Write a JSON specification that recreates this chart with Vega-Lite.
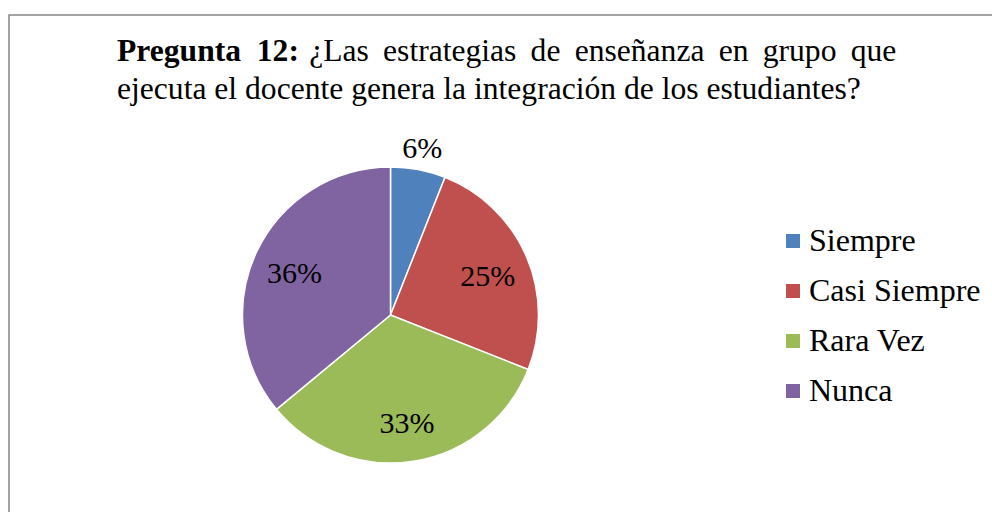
{
  "$schema": "https://vega.github.io/schema/vega-lite/v6.json",
  "width": 984,
  "height": 498,
  "autosize": {"type": "none"},
  "padding": {"left": 9, "top": 15, "right": -1, "bottom": -1},
  "background": "white",
  "view": {"stroke": "#868686", "strokeWidth": 1.5},
  "config": {"view": {"stroke": "#868686", "strokeWidth": 1.5}},
  "title": {
    "text": "Pregunta\u200212:",
    "subtitle": [
      "\u200b\u2003\u2003\u2003\u2003\u2003\u2003\u200a¿Las\u2009\u2005estrategias\u2009\u2005de\u2009\u2005enseñanza\u2009\u2005en\u2009\u2005grupo\u2009\u2005que",
      "ejecuta el docente genera la integración de los estudiantes?"
    ],
    "anchor": "start",
    "frame": "group",
    "orient": "top",
    "offset": 0,
    "font": "Liberation Serif",
    "fontSize": 31.6,
    "fontWeight": "bold",
    "color": "black",
    "subtitleFont": "Liberation Serif",
    "subtitleFontSize": 31.6,
    "subtitleFontWeight": "normal",
    "subtitleColor": "black",
    "subtitleLineHeight": 38,
    "subtitlePadding": -31.6,
    "dx": 108,
    "dy": 91
  },
  "data": {
    "values": [
      {"categoria": "Siempre", "porcentaje": 6, "etiqueta": "6%", "orden": 1},
      {"categoria": "Casi Siempre", "porcentaje": 25, "etiqueta": "25%", "orden": 2},
      {"categoria": "Rara Vez", "porcentaje": 33, "etiqueta": "33%", "orden": 3},
      {"categoria": "Nunca", "porcentaje": 36, "etiqueta": "36%", "orden": 4}
    ]
  },
  "encoding": {
    "theta": {"field": "porcentaje", "type": "quantitative", "stack": true},
    "order": {"field": "orden", "type": "quantitative"}
  },
  "layer": [
    {
      "mark": {"type": "arc", "radius": 148, "x": 381.5, "y": 300, "stroke": "white", "strokeWidth": 1.5},
      "encoding": {
        "color": {
          "field": "categoria",
          "type": "nominal",
          "scale": {
            "domain": ["Siempre", "Casi Siempre", "Rara Vez", "Nunca"],
            "range": ["#4F81BD", "#C0504D", "#9BBB59", "#8064A2"]
          },
          "legend": {
            "title": null,
            "orient": "none",
            "legendX": 768,
            "legendY": 210,
            "symbolType": "square",
            "symbolSize": 196,
            "symbolStrokeWidth": 0,
            "labelFont": "Liberation Serif",
            "labelFontSize": 32,
            "labelColor": "black",
            "labelLimit": 400,
            "labelOffset": 0,
            "rowPadding": 18,
            "padding": 0
          }
        }
      }
    },
    {
      "mark": {"type": "text", "radius": 106, "dy": 4, "x": 381.5, "y": 300, "font": "Liberation Serif", "fontSize": 30, "color": "black"},
      "encoding": {
        "detail": {"field": "categoria", "type": "nominal"},
        "text": {"condition": {"test": "datum.porcentaje >= 10", "field": "etiqueta", "type": "nominal"}, "value": ""}
      }
    },
    {
      "mark": {"type": "text", "radius": 169, "x": 381.5, "y": 300, "font": "Liberation Serif", "fontSize": 30, "color": "black"},
      "encoding": {
        "detail": {"field": "categoria", "type": "nominal"},
        "text": {"condition": {"test": "datum.porcentaje < 10", "field": "etiqueta", "type": "nominal"}, "value": ""}
      }
    }
  ]
}
